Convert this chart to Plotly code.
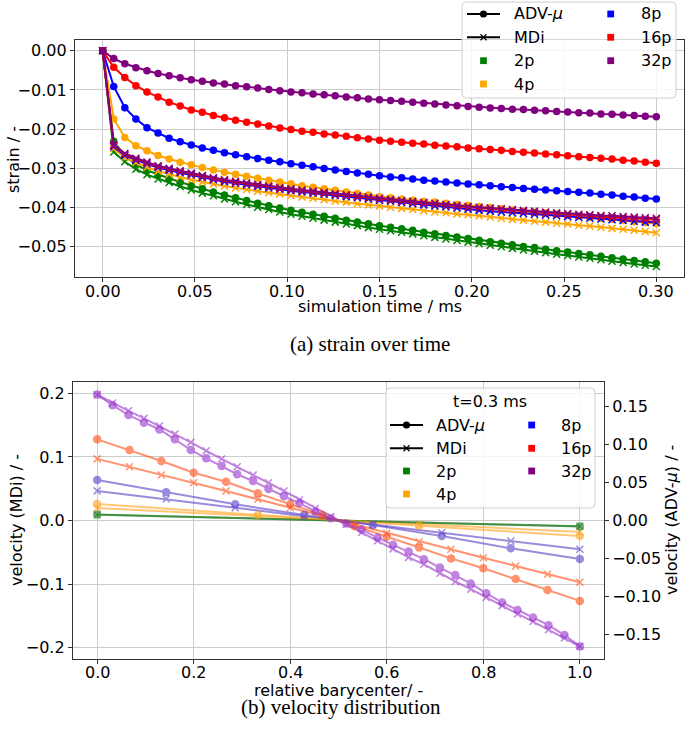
import plotly.graph_objects as go

W, H = 685, 743

# ---------------- top chart data: strain over time ----------------
t_ms = [round(0.006 * i, 3) for i in range(51)]

adv_2p = [0, -0.0231, -0.0268, -0.0290, -0.0305, -0.0316, -0.0325, -0.0335, -0.0344, -0.0352, -0.0360, -0.0368, -0.0375, -0.0382, -0.0389, -0.0395, -0.0401, -0.0407,
          -0.0412, -0.0417, -0.0422, -0.0427, -0.0432, -0.0437, -0.0441, -0.0446,
          -0.0450, -0.0454, -0.0458, -0.0463, -0.0467, -0.0471, -0.0475, -0.0479, -0.0483,
          -0.0487, -0.0491, -0.0495, -0.0499, -0.0502, -0.0506, -0.0510, -0.0513,
          -0.0517, -0.0520, -0.0524, -0.0528, -0.0531, -0.0535, -0.0538, -0.0542]
adv_4p = [0, -0.0174, -0.0221, -0.0242, -0.0255, -0.0267, -0.0276, -0.0284, -0.0291, -0.0298, -0.0304, -0.0310, -0.0315, -0.0320, -0.0325, -0.0330, -0.0335, -0.0339,
          -0.0344, -0.0348, -0.0352, -0.0356, -0.0360, -0.0364, -0.0368, -0.0372,
          -0.0375, -0.0378, -0.0381, -0.0384, -0.0386, -0.0389, -0.0392, -0.0394, -0.0397,
          -0.0400, -0.0403, -0.0406, -0.0409, -0.0411, -0.0414, -0.0417, -0.0420,
          -0.0422, -0.0425, -0.0428, -0.0430, -0.0433, -0.0436, -0.0438, -0.0441]
adv_8p = [0, -0.0091, -0.0145, -0.0174, -0.0196, -0.0210, -0.0223, -0.0232, -0.0240, -0.0248, -0.0254, -0.0260, -0.0265, -0.0270, -0.0275, -0.0279, -0.0283, -0.0288,
          -0.0292, -0.0296, -0.0300, -0.0304, -0.0308, -0.0312, -0.0315, -0.0319,
          -0.0322, -0.0324, -0.0327, -0.0330, -0.0332, -0.0335, -0.0337, -0.0340, -0.0342,
          -0.0344, -0.0347, -0.0349, -0.0351, -0.0353, -0.0355, -0.0357, -0.0359,
          -0.0361, -0.0363, -0.0366, -0.0368, -0.0371, -0.0373, -0.0376, -0.0378]
adv_16p = [0, -0.0042, -0.0068, -0.0089, -0.0105, -0.0118, -0.0131, -0.0141, -0.0151, -0.0157, -0.0165, -0.0171, -0.0177, -0.0182, -0.0187, -0.0192, -0.0197, -0.0201,
           -0.0205, -0.0208, -0.0212, -0.0215, -0.0218, -0.0222, -0.0225, -0.0228,
           -0.0231, -0.0233, -0.0236, -0.0238, -0.0241, -0.0243, -0.0245, -0.0248, -0.0250,
           -0.0252, -0.0254, -0.0257, -0.0259, -0.0261, -0.0263, -0.0265, -0.0268,
           -0.0270, -0.0272, -0.0274, -0.0276, -0.0279, -0.0281, -0.0284, -0.0287]
adv_32p = [0, -0.0020, -0.0033, -0.0043, -0.0051, -0.0058, -0.0064, -0.0069, -0.0074, -0.0078, -0.0082, -0.0085, -0.0089, -0.0092, -0.0095, -0.0099, -0.0102,
           -0.0105, -0.0107, -0.0110, -0.0112, -0.0115, -0.0118, -0.0120, -0.0123, -0.0125,
           -0.0127, -0.0129, -0.0131, -0.0134, -0.0136, -0.0138, -0.0140, -0.0142, -0.0144,
           -0.0146, -0.0147, -0.0149, -0.0150, -0.0152, -0.0153, -0.0155, -0.0156,
           -0.0158, -0.0159, -0.0161, -0.0162, -0.0164, -0.0165, -0.0167, -0.0168]

mdi_2p = [0, -0.0258, -0.0283, -0.0302, -0.0316, -0.0327, -0.0336, -0.0346, -0.0355, -0.0363, -0.0370, -0.0378, -0.0385, -0.0392, -0.0399, -0.0405, -0.0411, -0.0417,
          -0.0422, -0.0427, -0.0432, -0.0437, -0.0442, -0.0446, -0.0451, -0.0455,
          -0.0459, -0.0463, -0.0467, -0.0472, -0.0476, -0.0480, -0.0484, -0.0488, -0.0492,
          -0.0496, -0.0500, -0.0504, -0.0508, -0.0511, -0.0515, -0.0519, -0.0522,
          -0.0526, -0.0529, -0.0533, -0.0537, -0.0540, -0.0544, -0.0547, -0.0550]
mdi_4p = [0, -0.0250, -0.0272, -0.0285, -0.0297, -0.0307, -0.0315, -0.0322, -0.0329, -0.0335, -0.0340, -0.0345, -0.0350, -0.0354, -0.0358, -0.0362, -0.0365, -0.0369,
          -0.0373, -0.0376, -0.0380, -0.0383, -0.0386, -0.0390, -0.0393, -0.0396,
          -0.0399, -0.0402, -0.0405, -0.0408, -0.0411, -0.0413, -0.0416, -0.0418, -0.0421,
          -0.0424, -0.0427, -0.0430, -0.0432, -0.0435, -0.0437, -0.0440, -0.0442,
          -0.0445, -0.0447, -0.0450, -0.0453, -0.0455, -0.0458, -0.0461, -0.0464]
mdi_8p = [0, -0.0245, -0.0267, -0.0279, -0.0289, -0.0298, -0.0305, -0.0311, -0.0317, -0.0323, -0.0329, -0.0334, -0.0338, -0.0342, -0.0346, -0.0350, -0.0353, -0.0357,
          -0.0360, -0.0363, -0.0366, -0.0369, -0.0372, -0.0375, -0.0378, -0.0381,
          -0.0384, -0.0387, -0.0390, -0.0393, -0.0396, -0.0398, -0.0401, -0.0404, -0.0407,
          -0.0409, -0.0411, -0.0413, -0.0415, -0.0417, -0.0419, -0.0421, -0.0423,
          -0.0425, -0.0427, -0.0429, -0.0431, -0.0433, -0.0435, -0.0437, -0.0438]
mdi_16p = [0, -0.0242, -0.0264, -0.0276, -0.0286, -0.0295, -0.0302, -0.0308, -0.0314, -0.0320, -0.0326, -0.0331, -0.0335, -0.0339, -0.0343, -0.0347, -0.0351, -0.0354,
           -0.0357, -0.0360, -0.0363, -0.0366, -0.0369, -0.0372, -0.0375, -0.0378,
           -0.0381, -0.0384, -0.0386, -0.0389, -0.0391, -0.0394, -0.0396, -0.0399, -0.0401,
           -0.0403, -0.0405, -0.0407, -0.0409, -0.0412, -0.0414, -0.0416, -0.0418,
           -0.0420, -0.0421, -0.0423, -0.0425, -0.0427, -0.0428, -0.0430, -0.0431]
mdi_32p = [0, -0.0240, -0.0262, -0.0274, -0.0284, -0.0293, -0.0300, -0.0306, -0.0312, -0.0318, -0.0324, -0.0329, -0.0333, -0.0337, -0.0341, -0.0345, -0.0349, -0.0352,
           -0.0355, -0.0358, -0.0361, -0.0364, -0.0367, -0.0370, -0.0373, -0.0376,
           -0.0379, -0.0382, -0.0384, -0.0387, -0.0389, -0.0392, -0.0394, -0.0397, -0.0399,
           -0.0401, -0.0403, -0.0405, -0.0407, -0.0409, -0.0411, -0.0413, -0.0415,
           -0.0417, -0.0418, -0.0420, -0.0421, -0.0423, -0.0424, -0.0426, -0.0427]

# ---------------- bottom chart data: velocity distribution (t = 0.3 ms) ----------------
bary_2p = [0.0, 1.0]
bary_4p = [0.0, 0.333, 0.667, 1.0]
bary_8p = [0.0, 0.143, 0.286, 0.429, 0.571, 0.714, 0.857, 1.0]
bary_16p = [0.0, 0.067, 0.133, 0.2, 0.267, 0.333, 0.4, 0.467, 0.533, 0.6, 0.667, 0.733, 0.8, 0.867, 0.933, 1.0]
bary_32p = [0.0, 0.032, 0.065, 0.097, 0.129, 0.161, 0.194, 0.226, 0.258, 0.290, 0.323, 0.355, 0.387, 0.419, 0.452, 0.484,
            0.516, 0.548, 0.581, 0.613, 0.645, 0.677, 0.710, 0.742, 0.774, 0.806, 0.839, 0.871, 0.903, 0.935, 0.968, 1.0]

vel_mdi_2p = [0.0092, -0.0092]
vel_adv_2p = [0.0078, -0.0078]
vel_mdi_4p = [0.0195, 0.0066, -0.0063, -0.0182]
vel_adv_4p = [0.0218, 0.0072, -0.0068, -0.0205]
vel_mdi_8p = [0.0466, 0.0338, 0.0201, 0.0067, -0.0065, -0.0192, -0.0322, -0.0453]
vel_adv_8p = [0.0535, 0.0372, 0.0213, 0.0072, -0.0059, -0.0204, -0.0367, -0.0507]
vel_mdi_16p = [0.097, 0.0846, 0.0715, 0.0594, 0.0464, 0.0333, 0.020, 0.0065, -0.0065, -0.020, -0.0333, -0.0453, -0.0585, -0.0715, -0.0846, -0.0972]
vel_adv_16p = [0.107, 0.0929, 0.0784, 0.0630, 0.0511, 0.0358, 0.0217, 0.0072, -0.0072, -0.0213, -0.0355, -0.0500, -0.0630, -0.0771, -0.0916, -0.106]
vel_mdi_32p = [0.198, 0.185, 0.1727, 0.1607, 0.1486, 0.136, 0.123, 0.1097, 0.0967, 0.0846, 0.0715, 0.0594, 0.0464, 0.0322, 0.019, 0.0064,
               -0.0064, -0.019, -0.032, -0.0447, -0.058, -0.069, -0.083, -0.096, -0.108, -0.121, -0.134, -0.147, -0.159, -0.172, -0.185, -0.198]
vel_adv_32p = [0.166, 0.152, 0.139, 0.129, 0.120, 0.107, 0.093, 0.082, 0.072, 0.061, 0.052, 0.0415, 0.032, 0.023, 0.012, 0.003,
               -0.004, -0.012, -0.0226, -0.032, -0.041, -0.051, -0.062, -0.072, -0.083, -0.096, -0.108, -0.118, -0.128, -0.138, -0.151, -0.166]

# x tick labels
time_ticks = [0.0, 0.05, 0.10, 0.15, 0.20, 0.25, 0.30]
time_tick_text = ["0.00", "0.05", "0.10", "0.15", "0.20", "0.25", "0.30"]
bary_ticks = [0.0, 0.2, 0.4, 0.6, 0.8, 1.0]
bary_tick_text = ["0.0", "0.2", "0.4", "0.6", "0.8", "1.0"]

labels = ["2p", "4p", "8p", "16p", "32p"]
colors = ["#008000", "#ffa500", "#0000ff", "#ff0000", "#800080"]
bottom_colors = ["#1f7a1f", "#ffa31a", "#5a3fc8", "#ff4a10", "#9932cc"]

adv_top = [adv_2p, adv_4p, adv_8p, adv_16p, adv_32p]
mdi_top = [mdi_2p, mdi_4p, mdi_8p, mdi_16p, mdi_32p]
bary = [bary_2p, bary_4p, bary_8p, bary_16p, bary_32p]
vmdi = [vel_mdi_2p, vel_mdi_4p, vel_mdi_8p, vel_mdi_16p, vel_mdi_32p]
vadv = [vel_adv_2p, vel_adv_4p, vel_adv_8p, vel_adv_16p, vel_adv_32p]

FONT = "DejaVu Sans"
fig = go.Figure()

for lab, c, a, m in zip(labels, colors, adv_top, mdi_top):
    fig.add_trace(go.Scatter(x=t_ms, y=a, mode="lines+markers", name=lab + " ADV",
                             line=dict(color=c, width=2), marker=dict(symbol="circle", size=7.5, color=c),
                             xaxis="x", yaxis="y", showlegend=False))
    fig.add_trace(go.Scatter(x=t_ms, y=m, mode="lines+markers", name=lab + " MDi",
                             line=dict(color=c, width=2),
                             marker=dict(symbol="x-thin", size=7, color=c, line=dict(color=c, width=1.5)),
                             xaxis="x", yaxis="y", showlegend=False))

for lab, c, xs, vm, va in zip(labels, bottom_colors, bary, vmdi, vadv):
    fig.add_trace(go.Scatter(x=xs, y=vm, mode="lines+markers", name=lab + " MDi", opacity=0.6,
                             line=dict(color=c, width=2),
                             marker=dict(symbol="x-thin", size=7, color=c, line=dict(color=c, width=1.5)),
                             xaxis="x2", yaxis="y2", showlegend=False))
    fig.add_trace(go.Scatter(x=xs, y=va, mode="lines+markers", name=lab + " ADV", opacity=0.6,
                             line=dict(color=c, width=2), marker=dict(symbol="circle", size=8.5, color=c),
                             xaxis="x2", yaxis="y3", showlegend=False))


def px(x):
    return x / W


def py(y):
    return 1 - y / H


tickfont = dict(family=FONT, size=16, color="black")
axis_common = dict(showline=True, linecolor="#333333", linewidth=1.3, mirror=True,
                   ticks="outside", ticklen=4, tickcolor="#333333", tickwidth=1.2,
                   tickfont=tickfont, gridcolor="#cccccc", gridwidth=1.2, zeroline=False)

fig.update_layout(
    width=W, height=H, margin=dict(l=0, r=0, t=0, b=0),
    paper_bgcolor="white", plot_bgcolor="white", showlegend=False,
    xaxis=dict(domain=[px(75), px(684)], anchor="y", range=[-0.015, 0.315], tickvals=time_ticks,
               showticklabels=False, showgrid=True, **axis_common),
    yaxis=dict(domain=[py(277), py(40)], anchor="x", range=[-0.0577, 0.00275], tick0=0, dtick=0.01,
               tickformat=".2f", showgrid=True, **axis_common),
    xaxis2=dict(domain=[px(73), px(604)], anchor="y2", range=[-0.05, 1.05], tickvals=bary_ticks,
                showticklabels=False, showgrid=True, **axis_common),
    yaxis2=dict(domain=[py(659), py(382)], anchor="x2", range=[-0.218, 0.218], tick0=0, dtick=0.1,
                tickformat=".1f", showgrid=True, **axis_common),
    yaxis3=dict(overlaying="y2", side="right", anchor="x2", range=[-0.1826, 0.1826], tick0=0, dtick=0.05,
                tickformat=".2f", showgrid=False, showline=False, zeroline=False,
                ticks="outside", ticklen=4, tickcolor="#333333", tickwidth=1.2, tickfont=tickfont),
)

shapes = []
annotations = []


def text(x, y, s, size=16, anchor="left", family=FONT, angle=0):
    annotations.append(dict(x=px(x), y=py(y), xref="paper", yref="paper", text=s, showarrow=False,
                            xanchor=anchor, yanchor="middle", textangle=angle,
                            font=dict(family=family, size=size, color="black")))


# x tick labels placed on the axis' own data coordinates
for v, s in zip(time_ticks, time_tick_text):
    annotations.append(dict(x=v, y=py(291), xref="x", yref="paper", text=s, showarrow=False,
                            xanchor="center", yanchor="middle", font=tickfont))
for v, s in zip(bary_ticks, bary_tick_text):
    annotations.append(dict(x=v, y=py(672.5), xref="x2", yref="paper", text=s, showarrow=False,
                            xanchor="center", yanchor="middle", font=tickfont))


def rounded_box(x0, y0, x1, y1, r=4):
    X0, X1 = px(x0), px(x1)
    Y0, Y1 = py(y0), py(y1)
    rx, ry = r / W, r / H
    path = (f"M {X0+rx},{Y0} L {X1-rx},{Y0} Q {X1},{Y0} {X1},{Y0-ry} L {X1},{Y1+ry} Q {X1},{Y1} {X1-rx},{Y1} "
            f"L {X0+rx},{Y1} Q {X0},{Y1} {X0},{Y1+ry} L {X0},{Y0-ry} Q {X0},{Y0} {X0+rx},{Y0} Z")
    shapes.append(dict(type="path", path=path, xref="paper", yref="paper", layer="above",
                       fillcolor="rgba(255,255,255,0.8)", line=dict(color="#d0d0d0", width=1)))


def handle_line(x0, x1, y):
    shapes.append(dict(type="line", xref="paper", yref="paper", x0=px(x0), x1=px(x1), y0=py(y), y1=py(y),
                       line=dict(color="black", width=2), layer="above"))


def handle_dot(xc, yc, r=3.6):
    shapes.append(dict(type="circle", xref="paper", yref="paper", x0=px(xc - r), x1=px(xc + r),
                       y0=py(yc + r), y1=py(yc - r), fillcolor="black", line=dict(color="black", width=0),
                       layer="above"))


def handle_x(xc, yc, r=3):
    for dy in (r, -r):
        shapes.append(dict(type="line", xref="paper", yref="paper", x0=px(xc - r), x1=px(xc + r),
                           y0=py(yc - dy), y1=py(yc + dy), line=dict(color="black", width=1.3), layer="above"))


def handle_square(xc, yc, c, r=3.4):
    shapes.append(dict(type="rect", xref="paper", yref="paper", x0=px(xc - r), x1=px(xc + r),
                       y0=py(yc + r), y1=py(yc - r), fillcolor=c, line=dict(color=c, width=0), layer="above"))


# top legend
rounded_box(462, 2, 676, 98)
rows = [14, 37.3, 60.7, 84]
handle_line(467, 500, rows[0]); handle_dot(483.5, rows[0]); text(512, rows[0], "ADV-<i>μ</i>")
handle_line(467, 500, rows[1]); handle_x(483.5, rows[1]); text(512, rows[1], "MDi")
handle_square(483.5, rows[2], colors[0]); text(512, rows[2], labels[0])
handle_square(483.5, rows[3], colors[1]); text(512, rows[3], labels[1])
for k in range(3):
    handle_square(610.7, rows[k], colors[2 + k]); text(639, rows[k], labels[2 + k])

# bottom legend
rounded_box(386, 388, 595, 508)
text(490, 401.5, "t=0.3 ms", anchor="center")
rows_b = [425, 448.3, 471, 494]
handle_line(390, 423, rows_b[0]); handle_dot(406.5, rows_b[0]); text(434, rows_b[0], "ADV-<i>μ</i>")
handle_line(390, 423, rows_b[1]); handle_x(406.5, rows_b[1]); text(434, rows_b[1], "MDi")
handle_square(406.5, rows_b[2], colors[0]); text(434, rows_b[2], labels[0])
handle_square(406.5, rows_b[3], colors[1]); text(434, rows_b[3], labels[1])
for k in range(3):
    handle_square(531.7, rows_b[k], colors[2 + k]); text(559, rows_b[k], labels[2 + k])

# axis titles
text(380, 307, "simulation time / ms", anchor="center")
text(13, 160, "strain / -", anchor="center", angle=-90)
text(338, 690, "relative barycenter/ -", anchor="center")
text(16, 520, "velocity (MDi) / -", anchor="center", angle=-90)
text(671, 520, "velocity (ADV-<i>μ</i>) / -", anchor="center", angle=-90)

# captions
text(370, 344, "(a) strain over time", size=21, anchor="center", family="Liberation Serif")
text(341, 707, "(b) velocity distribution", size=21, anchor="center", family="Liberation Serif")

fig.update_layout(shapes=shapes, annotations=annotations)
fig.write_html("out.html", config={"displayModeBar": False},
               post_script="document.body.style.margin='0';document.body.style.padding='0';")
